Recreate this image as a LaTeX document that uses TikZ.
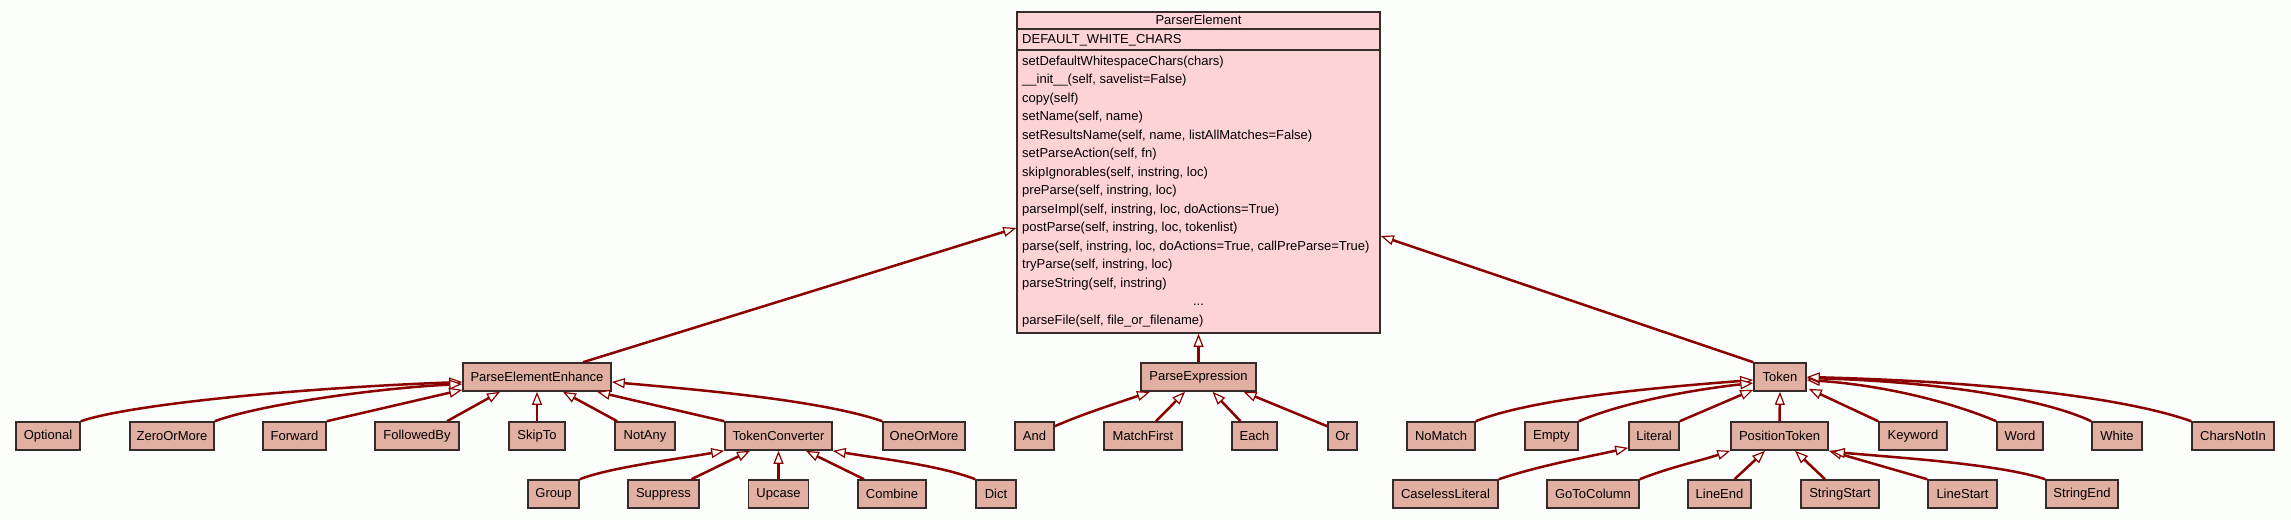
\documentclass[tikz,border=0pt]{standalone}
\usepackage{fontspec}
\setmainfont{Liberation Sans}
\usetikzlibrary{arrows.meta,calc}
\definecolor{bgc}{RGB}{252,254,252}
\definecolor{clsfill}{RGB}{226,176,162}
\definecolor{pefill}{RGB}{254,211,214}
\definecolor{bord}{RGB}{55,44,44}
\definecolor{edgec}{RGB}{139,0,0}
\tikzset{
  cls/.style={draw=bord, fill=clsfill, line width=1.6pt, inner sep=0pt, minimum height=28pt, font=\fontsize{13}{15}\selectfont},
  pebox/.style={draw=bord, fill=pefill, line width=1.6pt, inner sep=0pt, minimum width=363pt, minimum height=321pt},
  mtext/.style={anchor=west, inner sep=0pt, font=\fontsize{13}{15}\selectfont, text height=9.5pt, text depth=2.7pt},
  ctext/.style={inner sep=0pt, font=\fontsize{13}{15}\selectfont, text height=9.5pt, text depth=2.7pt},
  inh/.style={draw=edgec, line width=2.5pt, -{Triangle[length=13pt,width=10pt,fill=bgc,line width=1.2pt]}}
}
\begin{document}
\begin{tikzpicture}[x=1pt,y=-1pt]
\fill[bgc] (0,0) rectangle (2291,520);
\useasboundingbox (0,0) rectangle (2291,520);

% ParserElement class box
\node[pebox] (PE) at (1198.5,172.5) {};
\draw[bord, line width=1.6pt] ($(PE.north west)+(0,18)$) -- ($(PE.north east)+(0,18)$);
\draw[bord, line width=1.6pt] ($(PE.north west)+(0,39)$) -- ($(PE.north east)+(0,39)$);
\node[ctext] (PEtitle) at (1198.5,21) {ParserElement};
\node[mtext] (PEa) at (1022,40) {DEFAULT\_WHITE\_CHARS};
\node[mtext] (m1) at (1022,62) {setDefaultWhitespaceChars(chars)};
\node[mtext] (m2) at (1022,80.5) {\_\_init\_\_(self, savelist=False)};
\node[mtext] (m3) at (1022,99) {copy(self)};
\node[mtext] (m4) at (1022,117.5) {setName(self, name)};
\node[mtext] (m5) at (1022,136) {setResultsName(self, name, listAllMatches=False)};
\node[mtext] (m6) at (1022,154.5) {setParseAction(self, fn)};
\node[mtext] (m7) at (1022,173) {skipIgnorables(self, instring, loc)};
\node[mtext] (m8) at (1022,191.5) {preParse(self, instring, loc)};
\node[mtext] (m9) at (1022,210) {parseImpl(self, instring, loc, doActions=True)};
\node[mtext] (m10) at (1022,228.5) {postParse(self, instring, loc, tokenlist)};
\node[mtext] (m11) at (1022,247) {parse(self, instring, loc, doActions=True, callPreParse=True)};
\node[mtext] (m12) at (1022,265.5) {tryParse(self, instring, loc)};
\node[mtext] (m13) at (1022,284) {parseString(self, instring)};
\node[ctext] (m14) at (1198.5,302.5) {...};
\node[mtext] (m15) at (1022,321) {parseFile(self, file\_or\_filename)};

% Row 1
\node[cls, minimum width=148pt] (PEE) at (537,377) {ParseElementEnhance};
\node[cls, minimum width=115pt] (PEx) at (1198.5,377) {ParseExpression};
\node[cls, minimum width=52pt] (Token) at (1780,377) {Token};

% Row 2
\node[cls, minimum width=64pt] (Optional) at (48,436) {Optional};
\node[cls, minimum width=84pt] (ZeroOrMore) at (172,436) {ZeroOrMore};
\node[cls, minimum width=63pt] (Forward) at (294.5,436) {Forward};
\node[cls, minimum width=84pt] (FollowedBy) at (417,436) {FollowedBy};
\node[cls, minimum width=56pt] (SkipTo) at (537,436) {SkipTo};
\node[cls, minimum width=60pt] (NotAny) at (645,436) {NotAny};
\node[cls, minimum width=107pt] (TC) at (778.5,436) {TokenConverter};
\node[cls, minimum width=82pt] (OneOrMore) at (924,436) {OneOrMore};
\node[cls, minimum width=39pt] (And) at (1034.5,436) {And};
\node[cls, minimum width=78pt] (MatchFirst) at (1143,436) {MatchFirst};
\node[cls, minimum width=45pt] (Each) at (1254.5,436) {Each};
\node[cls, minimum width=29pt] (Or) at (1342.5,436) {Or};
\node[cls, minimum width=68pt] (NoMatch) at (1441,436) {NoMatch};
\node[cls, minimum width=53pt] (Empty) at (1551.5,436) {Empty};
\node[cls, minimum width=50pt] (Literal) at (1654,436) {Literal};
\node[cls, minimum width=97pt] (PT) at (1779.5,436) {PositionToken};
\node[cls, minimum width=68pt] (Keyword) at (1913,436) {Keyword};
\node[cls, minimum width=46pt] (Word) at (2020,436) {Word};
\node[cls, minimum width=50pt] (White) at (2117,436) {White};
\node[cls, minimum width=82pt] (CharsNotIn) at (2233,436) {CharsNotIn};

% Row 3
\node[cls, minimum width=51pt] (Group) at (553.5,494) {Group};
\node[cls, minimum width=71pt] (Suppress) at (663.5,494) {Suppress};
\node[cls, minimum width=60pt] (Upcase) at (778.5,494) {Upcase};
\node[cls, minimum width=68pt] (Combine) at (892,494) {Combine};
\node[cls, minimum width=40pt] (Dict) at (996,494) {Dict};
\node[cls, minimum width=105pt] (CaselessLiteral) at (1445.5,494) {CaselessLiteral};
\node[cls, minimum width=92pt] (GoToColumn) at (1593,494) {GoToColumn};
\node[cls, minimum width=63pt] (LineEnd) at (1719.5,494) {LineEnd};
\node[cls, minimum width=78pt] (StringStart) at (1840,494) {StringStart};
\node[cls, minimum width=69pt] (LineStart) at (1962.5,494) {LineStart};
\node[cls, minimum width=72pt] (StringEnd) at (2082,494) {StringEnd};

% edges to ParserElement
\draw[inh] ($(PEE.north)+(46,0)$) -- ($(PE.west)+(0,55.5)$);
\draw[inh] (PEx.north) -- (PE.south);
\draw[inh] (Token.north west) -- ($(PE.east)+(0,63.5)$);

% ParseElementEnhance children
\draw[inh] (Optional.north east) .. controls +(50,-17) and +(-163,6) .. ($(PEE.west)+(0,5)$);
\draw[inh] (ZeroOrMore.north east) .. controls +(46,-17) and +(-83,4) .. ($(PEE.west)+(0,7)$);
\draw[inh] (Forward.north east) -- ($(PEE.south west)+(0,-2)$);
\draw[inh] ($(FollowedBy.north)+(30,0)$) -- ($(PEE.south)+(-37,0)$);
\draw[inh] (SkipTo.north) -- (PEE.south);
\draw[inh] ($(NotAny.north west)+(3,0)$) -- ($(PEE.south)+(26,0)$);
\draw[inh] (TC.north west) -- ($(PEE.south)+(60,0)$);
\draw[inh] (OneOrMore.north west) .. controls +(-61,-21) and +(89,8) .. ($(PEE.east)+(0,5)$);

% TokenConverter children
\draw[inh] (Group.north east) .. controls +(31,-12) and +(-45,8) .. (TC.south west);
\draw[inh] ($(Suppress.north)+(28,0)$) -- ($(TC.south)+(-28.5,0)$);
\draw[inh] (Upcase.north) -- (TC.south);
\draw[inh] ($(Combine.north)+(-28,0)$) -- ($(TC.south)+(27.5,0)$);
\draw[inh] (Dict.north west) .. controls +(-36,-14) and +(48,8) .. (TC.south east);

% ParseExpression children
\draw[inh] ($(And.north east)+(0,5)$) .. controls +(30,-13) and +(-35,12) .. ($(PEx.south)+(-48.5,0)$);
\draw[inh] ($(MatchFirst.north)+(13,0)$) -- ($(PEx.south)+(-13.5,0)$);
\draw[inh] ($(Each.north)+(-14,0)$) -- ($(PEx.south)+(14,0)$);
\draw[inh] ($(Or.north west)+(0,5)$) -- ($(PEx.south)+(45,0)$);

% Token children
\draw[inh] (NoMatch.north east) .. controls +(55,-22) and +(-104,8) .. ($(Token.west)+(0,3)$);
\draw[inh] (Empty.north east) .. controls +(42,-18) and +(-64,7) .. ($(Token.west)+(0,6)$);
\draw[inh] (Literal.north east) -- ($(Token.south west)+(0,-2)$);
\draw[inh] (PT.north) -- (Token.south);
\draw[inh] (Keyword.north west) -- ($(Token.south east)+(2,-3)$);
\draw[inh] (Word.north west) .. controls +(-47,-20) and +(74,5) .. ($(Token.east)+(0,3)$);
\draw[inh] (White.north west) .. controls +(-42,-20) and +(144,4) .. ($(Token.east)+(0,1)$);
\draw[inh] (CharsNotIn.north west) .. controls +(-62,-22) and +(194,5) .. ($(Token.east)+(0,0)$);

% Literal child
\draw[inh] (CaselessLiteral.north east) .. controls +(42,-14) and +(-40,9) .. ($(Literal.south west)+(0,-3)$);

% PositionToken children
\draw[inh] (GoToColumn.north east) .. controls +(30,-12) and +(-30,10) .. (PT.south west);
\draw[inh] ($(LineEnd.north)+(15,0)$) -- ($(PT.south)+(-14.5,0)$);
\draw[inh] ($(StringStart.north)+(-15,0)$) -- ($(PT.south)+(15.5,0)$);
\draw[inh] (LineStart.north west) -- (PT.south east);
\draw[inh] (StringEnd.north west) .. controls +(-46,-15) and +(69,6) .. ($(PT.south east)+(3,1)$);
\end{tikzpicture}
\end{document}
